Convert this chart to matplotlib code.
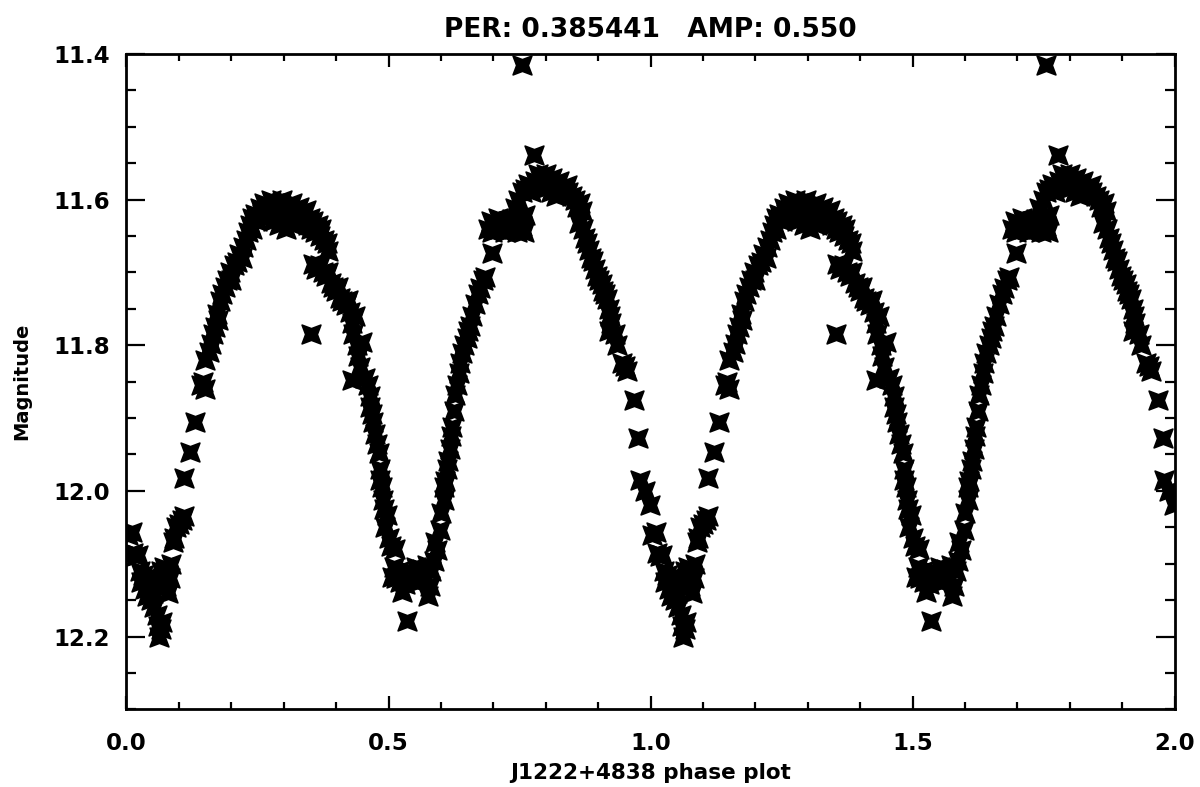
import numpy as np
import matplotlib
matplotlib.use("Agg")
import matplotlib.pyplot as plt
from matplotlib.path import Path
from matplotlib.ticker import MultipleLocator, FixedLocator

title_text = "PER: 0.385441   AMP: 0.550"
xlabel_text = "J1222+4838 phase plot"
ylabel_text = "Magnitude"
xtick_vals = [0.0, 0.5, 1.0, 1.5, 2.0]
xtick_labels = ["0.0", "0.5", "1.0", "1.5", "2.0"]
ytick_vals = [11.4, 11.6, 11.8, 12.0, 12.2]
ytick_labels = ["11.4", "11.6", "11.8", "12.0", "12.2"]

# phase (one cycle) and magnitude; plotted twice (phase and phase+1)
phase = [
    0.003, 0.010, 0.012, 0.018, 0.022, 0.025, 0.028, 0.032, 0.035, 0.038,
    0.040, 0.044, 0.047, 0.050, 0.052, 0.055, 0.058, 0.060, 0.062, 0.065,
    0.068, 0.066, 0.070, 0.072, 0.075, 0.078, 0.080, 0.083, 0.085,
    0.088, 0.091, 0.095, 0.100, 0.105, 0.110, 0.109, 0.121, 0.130, 0.143,
    0.146, 0.149, 0.150, 0.158, 0.162, 0.165, 0.169, 0.172, 0.175, 0.178,
    0.182, 0.188, 0.192, 0.197, 0.200, 0.205, 0.210, 0.215, 0.220, 0.223,
    0.228, 0.232, 0.235, 0.239, 0.240, 0.245, 0.250, 0.255, 0.258, 0.262,
    0.265, 0.270, 0.275, 0.277, 0.280, 0.285, 0.290, 0.292, 0.296, 0.300,
    0.305, 0.308, 0.310, 0.315, 0.318, 0.320, 0.325, 0.330, 0.334, 0.338,
    0.342, 0.346, 0.350, 0.353, 0.356, 0.360, 0.365, 0.370, 0.372, 0.376,
    0.382, 0.385, 0.353,
    0.355, 0.362, 0.370, 0.375, 0.380, 0.385, 0.390, 0.395, 0.400, 0.404,
    0.408, 0.412, 0.418, 0.423, 0.426, 0.430, 0.433, 0.436, 0.439, 0.442,
    0.446, 0.430, 0.449, 0.455, 0.460, 0.465, 0.465, 0.468, 0.471, 0.474,
    0.478, 0.481, 0.484, 0.484, 0.487, 0.490, 0.492, 0.497, 0.494, 0.500,
    0.505, 0.513,
    0.506, 0.510, 0.515, 0.520, 0.522, 0.525, 0.528, 0.532, 0.535, 0.538,
    0.542, 0.547, 0.552, 0.556, 0.560, 0.563, 0.568, 0.573, 0.576, 0.579,
    0.582,
    0.586, 0.588, 0.592, 0.599, 0.601, 0.605, 0.606, 0.608, 0.611, 0.614,
    0.618, 0.620, 0.621, 0.625, 0.627, 0.630, 0.634, 0.637, 0.640, 0.645,
    0.649, 0.652, 0.656, 0.660, 0.665, 0.670, 0.675, 0.680, 0.684, 0.697,
    0.690, 0.695, 0.697, 0.703, 0.708, 0.712, 0.716, 0.722, 0.728, 0.735,
    0.740, 0.745, 0.750, 0.754, 0.758, 0.761,
    0.741, 0.748, 0.754, 0.760, 0.767, 0.772, 0.754, 0.777,
    0.780, 0.785, 0.790, 0.793, 0.797, 0.800, 0.805, 0.810, 0.812, 0.817,
    0.820, 0.825, 0.831, 0.835, 0.840, 0.843, 0.850, 0.856, 0.860, 0.865,
    0.869, 0.863, 0.872, 0.875, 0.878, 0.882, 0.886, 0.890, 0.894, 0.898,
    0.902, 0.907, 0.910, 0.914, 0.917, 0.920, 0.922, 0.925, 0.920, 0.933,
    0.936, 0.945, 0.951, 0.955, 0.969, 0.977, 0.980, 0.990, 0.999,
]
mag = [
    12.060, 12.056, 12.085, 12.090, 12.088, 12.110, 12.125, 12.115, 12.135, 12.120,
    12.145, 12.130, 12.150, 12.140, 12.160, 12.125, 12.170, 12.185, 12.200, 12.190,
    12.180, 12.110, 12.120, 12.105, 12.130, 12.115, 12.140, 12.120, 12.100,
    12.070, 12.065, 12.050, 12.045, 12.040, 12.035, 11.983, 11.946, 11.905, 11.855,
    11.850, 11.860, 11.820, 11.810, 11.798, 11.785, 11.775, 11.757, 11.765, 11.740,
    11.730, 11.720, 11.710, 11.700, 11.710, 11.690, 11.686, 11.675, 11.680, 11.665,
    11.655, 11.645, 11.635, 11.625, 11.640, 11.620, 11.630, 11.612, 11.620, 11.605,
    11.625, 11.610, 11.600, 11.620, 11.630, 11.605, 11.615, 11.635, 11.600, 11.620,
    11.640, 11.610, 11.625, 11.605, 11.635, 11.615, 11.625, 11.610, 11.620, 11.630,
    11.615, 11.635, 11.625, 11.640, 11.630, 11.645, 11.635, 11.650, 11.640, 11.655,
    11.660, 11.670, 11.784,
    11.688, 11.695, 11.690, 11.700, 11.705, 11.700, 11.715, 11.720, 11.725, 11.720,
    11.735, 11.740, 11.745, 11.738, 11.755, 11.770, 11.785, 11.760, 11.800, 11.815,
    11.830, 11.848, 11.795, 11.845, 11.855, 11.870, 11.885, 11.895, 11.906, 11.922,
    11.935, 11.948, 11.970, 11.985, 11.995, 12.012, 12.025, 12.033, 12.050, 12.065,
    12.075, 12.080,
    12.118, 12.105, 12.120, 12.110, 12.125, 12.139, 12.115, 12.128, 12.178, 12.110,
    12.122, 12.118, 12.105, 12.125, 12.110, 12.107, 12.115, 12.102, 12.144, 12.130,
    12.110,
    12.096, 12.070, 12.081, 12.054, 12.030, 12.012, 11.995, 11.986, 11.970, 11.959,
    11.943, 11.925, 11.912, 11.890, 11.869, 11.855, 11.838, 11.825, 11.811, 11.800,
    11.790, 11.780, 11.774, 11.760, 11.743, 11.730, 11.722, 11.710, 11.706, 11.674,
    11.640, 11.630, 11.645, 11.635, 11.625, 11.640, 11.632, 11.645, 11.630, 11.627,
    11.640, 11.645, 11.630, 11.637, 11.645, 11.621,
    11.611, 11.600, 11.590, 11.585, 11.579, 11.590, 11.415, 11.539,
    11.575, 11.565, 11.580, 11.570, 11.585, 11.565, 11.575, 11.590, 11.570, 11.580,
    11.595, 11.575, 11.585, 11.590, 11.580, 11.590, 11.595, 11.600, 11.610, 11.605,
    11.616, 11.632, 11.640, 11.653, 11.660, 11.669, 11.680, 11.685, 11.695, 11.705,
    11.710, 11.716, 11.725, 11.730, 11.737, 11.750, 11.760, 11.770, 11.780, 11.784,
    11.800, 11.825, 11.828, 11.835, 11.875, 11.928, 11.985, 12.000, 12.019,
]

ph = np.array(phase)
mg = np.array(mag)
x_all = np.concatenate([ph, ph + 1.0])
y_all = np.concatenate([mg, mg])

# concave four-point star marker (IDL-like asterisk look)
r_in = 0.44
angs = np.deg2rad(45 + 45 * np.arange(8))
rads = np.where(np.arange(8) % 2 == 0, 1.0, r_in)
verts = np.column_stack([rads * np.cos(angs), rads * np.sin(angs)])
verts = np.vstack([verts, verts[:1]])
codes = [Path.MOVETO] + [Path.LINETO] * 7 + [Path.CLOSEPOLY]
star = Path(verts, codes)

plt.rcParams['font.family'] = ['DejaVu Sans']
fig = plt.figure(figsize=(12, 7.87), dpi=100)
ax = fig.add_axes([0.1054, 0.0986, 0.8734, 0.833])

ax.plot(x_all, y_all, linestyle='none', marker=star, ms=13.5,
        mfc='black', mec='black', mew=1.2)

ax.set_xlim(0, 2)
ax.set_ylim(12.3, 11.4)
ax.xaxis.set_major_locator(FixedLocator(xtick_vals))
ax.set_xticklabels(xtick_labels)
ax.yaxis.set_major_locator(FixedLocator(ytick_vals))
ax.set_yticklabels(ytick_labels)
ax.xaxis.set_minor_locator(MultipleLocator(0.1))
ax.yaxis.set_minor_locator(MultipleLocator(0.05))

for s in ax.spines.values():
    s.set_linewidth(2.0)
ax.tick_params(axis='both', which='both', direction='in', top=True, right=True,
               width=1.6, colors='black')
ax.tick_params(axis='x', which='major', length=9.5, pad=16, labelsize=16.5)
ax.tick_params(axis='x', which='minor', length=5)
ax.tick_params(axis='y', which='major', length=14, pad=12, labelsize=16.5)
ax.tick_params(axis='y', which='minor', length=7)
for lab in ax.get_xticklabels() + ax.get_yticklabels():
    lab.set_fontweight('bold')

ax.set_title(title_text, fontsize=19, fontweight='bold', pad=12)
ax.set_xlabel(xlabel_text, fontsize=15.5, fontweight='bold', labelpad=6)
ax.set_ylabel(ylabel_text, fontsize=14, fontweight='bold', labelpad=16)

fig.savefig("out.png", dpi=100)
